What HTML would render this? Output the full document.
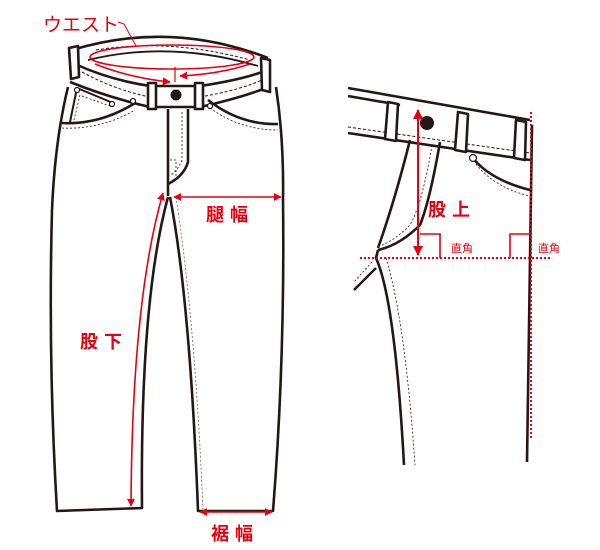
<!DOCTYPE html>
<html><head><meta charset="utf-8"><style>
html,body{margin:0;padding:0;background:#fff;width:600px;height:550px;overflow:hidden}
svg{display:block}
text{font-family:"Liberation Sans","Noto Sans CJK JP",sans-serif;fill:#e60012}
</style></head><body>
<svg width="600" height="550" viewBox="0 0 600 550" xmlns="http://www.w3.org/2000/svg">
<defs>
<marker id="ah" viewBox="0 0 10 10" refX="9" refY="5" markerWidth="5" markerHeight="5" orient="auto-start-reverse"><path d="M0,0 L10,5 L0,10 Z" fill="#e60012"/></marker>
</defs>
<g fill="none" stroke="#231815" stroke-width="2.6" stroke-linejoin="round">
<path d="M72,50 Q170,20 268,58" />
<path d="M88,60 Q170,40 258,66" stroke-width="1.8"/>
<path d="M75,64 Q110,80 150,86 L200,86 Q240,80 262,72"/>
<path d="M70,82 Q110,98 150,107 L200,107 Q240,98 266,88"/>
<path d="M82,72 Q115,90 150,97 M200,97 Q240,90 262,80" stroke-width="1" stroke-dasharray="3,2"/>
<path d="M96,50 Q170,38 250,60" stroke-width="1" stroke-dasharray="3,2"/>
<path d="M69,48 L78,46 L79,77 L71,79 Z" fill="#fff"/>
<path d="M261,58 L270,60 L270,92 L262,90 Z" fill="#fff"/>
<path d="M148,83 L156,83 L156,109 L148,109 Z" fill="#fff"/>
<path d="M195,83 L203,83 L203,109 L195,109 Z" fill="#fff"/>
<circle cx="176" cy="95" r="5.5" fill="#231815" stroke="none"/>
<path d="M68,87 Q55,140 52,210 Q48,360 57,511 L142,508 Q140,300 168,197"/>
<path d="M276,87 Q284,140 283,200 Q285,360 273,511 L198,511 Q190,300 170,197"/>
<path d="M176,197 Q195,320 203,510" stroke-width="0.8" stroke-dasharray="2,2" stroke="#666"/>
<path d="M168,109 L168,196"/>
<path d="M188,109 L188,162 Q184,176 168,184"/>
<path d="M182,112 L182,160 Q178,170 170,176" stroke-width="0.8" stroke-dasharray="2,2"/>
<path d="M170,160 L176,160 L176,176" stroke-width="0.8" stroke-dasharray="2,2"/>
<path d="M62,123 Q100,125 135,103"/>
<path d="M208,100 Q240,125 278,124"/>
<path d="M62,128 Q100,130 135,110 M210,108 Q240,130 278,130" stroke-width="0.8" stroke-dasharray="2,2"/>
<path d="M77,88 L70,122 M77,88 L113,103" stroke-width="2"/>
<path d="M80,95 L74,120 M82,96 L110,106" stroke-width="0.8" stroke-dasharray="2,2"/>
<circle cx="77" cy="90" r="2.5" fill="#fff" stroke-width="1.2"/>
<circle cx="112" cy="104" r="2.5" fill="#fff" stroke-width="1.2"/>
<circle cx="133" cy="101" r="2.5" fill="#fff" stroke-width="1.2"/>
<circle cx="210" cy="106" r="2.5" fill="#fff" stroke-width="1.2"/>

<path d="M348,88 L530,120"/>
<path d="M348,96 L400,105"/>
<path d="M348,133 L530,160"/>
<path d="M348,127 L530,153" stroke-width="1" stroke-dasharray="3,2"/>
<path d="M388,102 L398,104 L396,141 L385,139 Z" fill="#fff"/>
<path d="M458,112 L468,114 L466,152 L455,150 Z" fill="#fff"/>
<path d="M516,120 L526,122 L525,160 L514,158 Z" fill="#fff"/>
<circle cx="427" cy="123" r="7" fill="#231815" stroke="none"/>
<path d="M410,140 Q395,200 378,248"/>
<path d="M440,142 Q430,200 420,225 Q400,245 378,250"/>
<path d="M432,145 Q422,205 410,225 Q395,240 382,245" stroke-width="0.8" stroke-dasharray="2,2"/>
<path d="M378,250 L376,258 Q395,300 404,465"/>
<path d="M386,258 Q405,320 415,465" stroke-width="0.8" stroke-dasharray="2,2"/>
<path d="M376,268 L354,290"/>
<path d="M372,262 L354,282" stroke-width="0.8" stroke-dasharray="2,2"/>
<path d="M472,157 Q490,180 530,190"/>
<path d="M476,164 Q495,188 530,196" stroke-width="0.8" stroke-dasharray="2,2"/>
<circle cx="473" cy="158" r="3.5" fill="#fff" stroke-width="1.2"/>
<path d="M532,125 L527,462"/>
</g>

<g fill="none" stroke="#e60012" stroke-width="1.6">
<ellipse cx="172" cy="57" rx="82" ry="12"/>
<path d="M118,22 L124,24 L136,46" stroke-width="1"/>
<path d="M95,64 Q130,78 170,82" marker-end="url(#ah)"/>
<path d="M250,64 Q220,74 180,76" marker-end="url(#ah)"/>
<path d="M175,67 L175,82" stroke-width="1.2"/>
<path d="M174,197 L281,197" marker-start="url(#ah)" marker-end="url(#ah)"/>
<path d="M163,193 Q132,300 131,506" marker-start="url(#ah)" marker-end="url(#ah)"/>
<path d="M200,512 L272,512" marker-start="url(#ah)" marker-end="url(#ah)"/>
<path d="M418,110 L418,255" stroke-width="2" marker-start="url(#ah)" marker-end="url(#ah)"/>
<path d="M420,234 L440,234 L440,258 M510,258 L510,234 L530,234" stroke-width="1.6"/>
<path d="M360,258 L550,258" stroke-width="2" stroke-dasharray="2,2"/>
<path d="M531,112 L531,440" stroke-width="2" stroke-dasharray="2,2"/>
</g>
<text x="43" y="31" font-size="19">ウエスト</text>
<text x="206" y="221" font-size="18" font-weight="bold" letter-spacing="6">腿幅</text>
<text x="80" y="348" font-size="18" font-weight="bold" letter-spacing="6">股下</text>
<text x="211" y="540" font-size="18" font-weight="bold" letter-spacing="6">裾幅</text>
<text x="428" y="216" font-size="18" font-weight="bold" letter-spacing="6">股上</text>
<text x="451" y="252" font-size="11">直角</text>
<text x="538" y="252" font-size="11">直角</text>
</svg>
</body></html>
